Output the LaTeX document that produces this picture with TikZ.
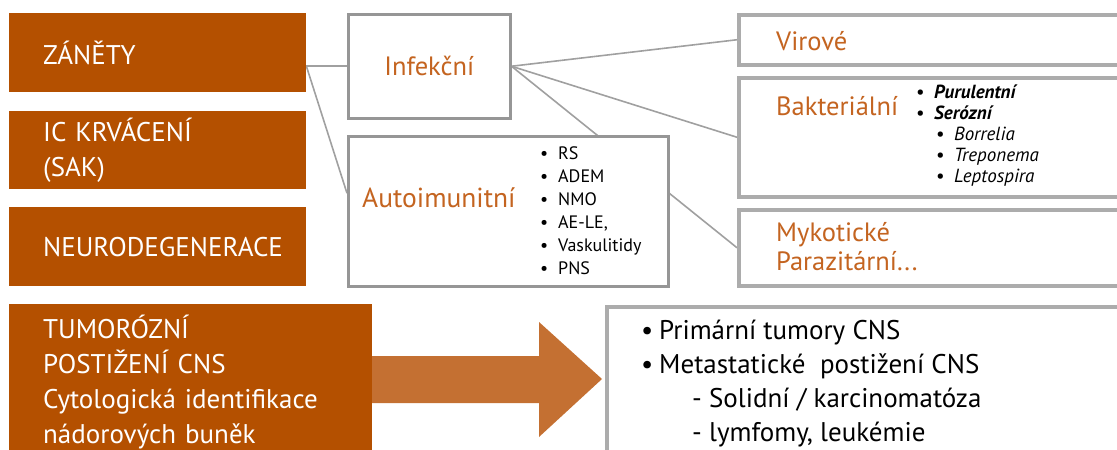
\documentclass[tikz,border=0pt]{standalone}
\usepackage{fontspec}
\setmainfont{PT Sans}
\usetikzlibrary{backgrounds}

\definecolor{boxorange}{RGB}{180,80,0}
\definecolor{txtorange}{RGB}{196,100,32}
\definecolor{arrorange}{RGB}{196,112,50}
\definecolor{linegray}{RGB}{160,160,160}
\definecolor{framegray}{RGB}{150,150,150}
\definecolor{hatchgray}{RGB}{172,172,172}

\newcommand{\itm}[1]{\makebox[18pt][l]{\textbullet}#1}

\tikzset{
  leftbox/.style={fill=boxorange, text=white, anchor=north west, align=left,
    inner xsep=34pt, inner ysep=0pt, text width=229pt, minimum height=79pt,
    font=\fontsize{27}{35}\selectfont},
  framebox/.style={draw=framegray, line width=2.5pt, fill=white,
    anchor=north west, inner sep=0pt},
  hatchbox/.style={draw=hatchgray, line width=3.5pt, fill=white,
    anchor=north west, inner sep=0pt, minimum width=420pt},
  orangetxt/.style={text=txtorange, inner sep=0pt, align=left,
    font=\fontsize{26.5}{29}\selectfont},
  itemlist/.style={anchor=north west, inner sep=0pt, align=left},
  conn/.style={draw=linegray, line width=1.6pt}
}

\begin{document}
\begin{tikzpicture}[x=1pt, y=-1pt]
\clip (0,0) rectangle (1117,450);
% levy sloupec
\node[leftbox] (zanety) at (9,13) {ZÁNĚTY};
\node[leftbox, minimum height=78pt] (krvaceni) at (9,111) {IC KRVÁCENÍ\\(SAK)};
\node[leftbox] (neuro) at (9,207) {NEURODEGENERACE};
\node[leftbox, text width=295pt, minimum width=363pt, minimum height=156pt] (tumor) at (9,304)
  {TUMORÓZNÍ\\POSTIŽENÍ CNS\\Cytologická identifikace\\nádorových buněk};
% stredni sloupec
\node[framebox, minimum width=162pt, minimum height=104pt, orangetxt] (infekcni) at (347,13) {Infekční};
\node[framebox, minimum width=320pt, minimum height=150pt] (autoimun) at (347,135) {};
\node[orangetxt, anchor=west, font=\fontsize{27.5}{30}\selectfont] (autotxt) at (362,198) {Autoimunitní};
\node[itemlist, font=\fontsize{18}{23}\selectfont] (autolist) at (540,146)
  {\itm{RS}\\\itm{ADEM}\\\itm{NMO}\\\itm{AE-LE,}\\\itm{Vaskulitidy}\\\itm{PNS}};
% pravy sloupec
\node[hatchbox, minimum height=50pt] (virove) at (737,13) {};
\node[orangetxt, anchor=west] (viretxt) at (776,41) {Virové};
\node[hatchbox, minimum height=119pt] (bakter) at (737,76) {};
\node[orangetxt, anchor=west] (baktxt) at (776,106) {Bakteriální};
\node[itemlist, font=\fontsize{19}{21}\selectfont] (baklist) at (916,85)
  {\itm{\textbf{\textit{Purulentní}}}\\\itm{\textbf{\textit{Serózní}}}\\
   \hspace*{20pt}\itm{\textit{Borrelia}}\\\hspace*{20pt}\itm{\textit{Treponema}}\\
   \hspace*{20pt}\itm{\textit{Leptospira}}};
\node[hatchbox, minimum height=76pt] (mykot) at (737,208) {};
\node[orangetxt, anchor=west] (myktxt) at (776,247) {Mykotické\\Parazitární...};
% nadory
\node[hatchbox, minimum width=520pt, minimum height=150pt] (nador) at (605,305) {};
\node[itemlist, font=\fontsize{27}{34}\selectfont] (nadlist) at (641,320)
  {\itm{Primární tumory CNS}\\\itm{Metastatické\ \ postižení CNS}\\
   \hspace*{51pt}- Solidní / karcinomatóza\\\hspace*{51pt}- lymfomy, leukémie};
% sipka
\fill[arrorange] (372,356) -- (539,356) -- (539,322) -- (602,379)
  -- (539,437) -- (539,403) -- (372,403) -- cycle;
% spojnice
\begin{scope}[on background layer]
\coordinate (rozcesti) at (zanety.east |- infekcni.west);
\draw[conn] (rozcesti) -- (infekcni.west);
\draw[conn] (rozcesti) -- ([yshift=18pt]autoimun.west);
\draw[conn] (infekcni.east) -- (virove.west);
\draw[conn] (infekcni.east) -- (bakter.west);
\draw[conn] (infekcni.east) -- (mykot.west);
\end{scope}
\end{tikzpicture}
\end{document}
